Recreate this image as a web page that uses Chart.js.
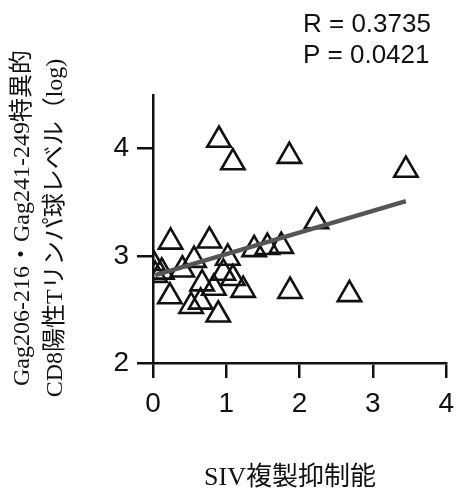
<!DOCTYPE html>
<html>
<head>
<meta charset="utf-8">
<script src="https://cdn.jsdelivr.net/npm/chart.js@4"></script>
<style>
  html, body { margin: 0; padding: 0; background: #fff; }
  #wrap { width: 463px; height: 492px; }
</style>
</head>
<body>
<div id="wrap"><canvas id="chart" width="463" height="492"></canvas></div>
<script>
// values
const suppressX = [0.90, 1.09, 1.86, 3.45, 2.23, 0.24, 0.77, 1.38, 1.56, 1.75, 1.02, 0.56, 0.12, 0.00,
  0.03, 0.40, 0.96, 1.09, 0.67, 0.83, 1.23, 0.23, 0.65, 0.52, 0.89, 1.87, 2.68]
const cd8Level = [4.08, 3.87, 3.93, 3.80, 3.32, 3.13, 3.14, 3.06, 3.08, 3.09, 2.98, 2.96, 2.85, 2.93,
  2.82, 2.87, 2.84, 2.79, 2.74, 2.70, 2.68, 2.62, 2.57, 2.53, 2.45, 2.67, 2.64]
const fitX = [0.03, 3.45]
const fitY = [2.82, 3.51]
const xTicks = [0, 1, 2, 3, 4]
const yTicks = [2, 3, 4]
const statsText = ["R = 0.3735", "P = 0.0421"]
const xTitle = "SIV複製抑制能"
const yTitle = ["Gag206-216・Gag241-249特異的", "CD8陽性Tリンパ球レベル（log)"]

const sansFont = "'Liberation Sans', Arial, sans-serif"
const serifFont = "'Liberation Serif', 'Noto Sans CJK JP', serif"

const textPlugin = {
  id: "textPlugin",
  afterDraw(chart) {
    const ctx = chart.ctx
    ctx.save()
    ctx.fillStyle = "#111"
    // stats
    ctx.font = "26px " + sansFont
    ctx.textAlign = "left"
    ctx.textBaseline = "alphabetic"
    ctx.fillText(statsText[0], 303, 32)
    ctx.fillText(statsText[1], 303, 63)
    // x title
    ctx.font = "26px " + serifFont
    ctx.textAlign = "center"
    ctx.fillText(xTitle, 290, 485)
    // y title, two rotated lines
    ctx.font = "24px " + serifFont
    ctx.textBaseline = "middle"
    const lines = [[23, 218], [56, 228]]
    yTitle.forEach((t, i) => {
      ctx.save()
      ctx.translate(lines[i][0], lines[i][1])
      ctx.rotate(-Math.PI / 2)
      ctx.fillText(t, 0, 0)
      ctx.restore()
    })
    ctx.restore()
  },
}

const ctx = document.getElementById("chart")
new Chart(ctx, {
  type: "scatter",
  data: {
    datasets: [
      {
        type: "line",
        data: fitX.map((x, i) => ({ x: x, y: fitY[i] })),
        borderColor: "#555",
        borderWidth: 4.5,
        pointRadius: 0,
        fill: false,
        order: 0,
      },
      {
        data: suppressX.map((x, i) => ({ x: x, y: cd8Level[i] })),
        pointStyle: "triangle",
        pointRadius: 13.5,
        pointBorderWidth: 2.6,
        pointBorderColor: "#111",
        pointBackgroundColor: "rgba(255,255,255,0)",
        order: 1,
      },
    ],
  },
  options: {
    responsive: false,
    animation: false,
    layout: { padding: { top: 95, right: 10, left: 0, bottom: 0 } },
    plugins: {
      legend: { display: false },
      tooltip: { enabled: false },
    },
    scales: {
      x: {
        type: "linear",
        min: 0,
        max: 4,
        afterFit: (s) => { s.height = 129 },
        afterBuildTicks: (s) => { s.ticks = xTicks.map((v) => ({ value: v })) },
        border: { display: true, color: "#111", width: 2.5 },
        grid: { drawOnChartArea: false, color: "#111", lineWidth: 2.5, tickLength: 15 },
        ticks: { color: "#111", font: { family: sansFont, size: 28 }, padding: 9 },
      },
      y: {
        type: "linear",
        min: 2,
        max: 4.5,
        afterFit: (s) => { s.width = 153 },
        afterBuildTicks: (s) => { s.ticks = yTicks.map((v) => ({ value: v })) },
        border: { display: true, color: "#111", width: 2.5 },
        grid: { drawOnChartArea: false, color: "#111", lineWidth: 2.5, tickLength: 16 },
        ticks: { color: "#111", font: { family: sansFont, size: 28 }, padding: 8 },
      },
    },
  },
  plugins: [textPlugin],
})
</script>
</body>
</html>
